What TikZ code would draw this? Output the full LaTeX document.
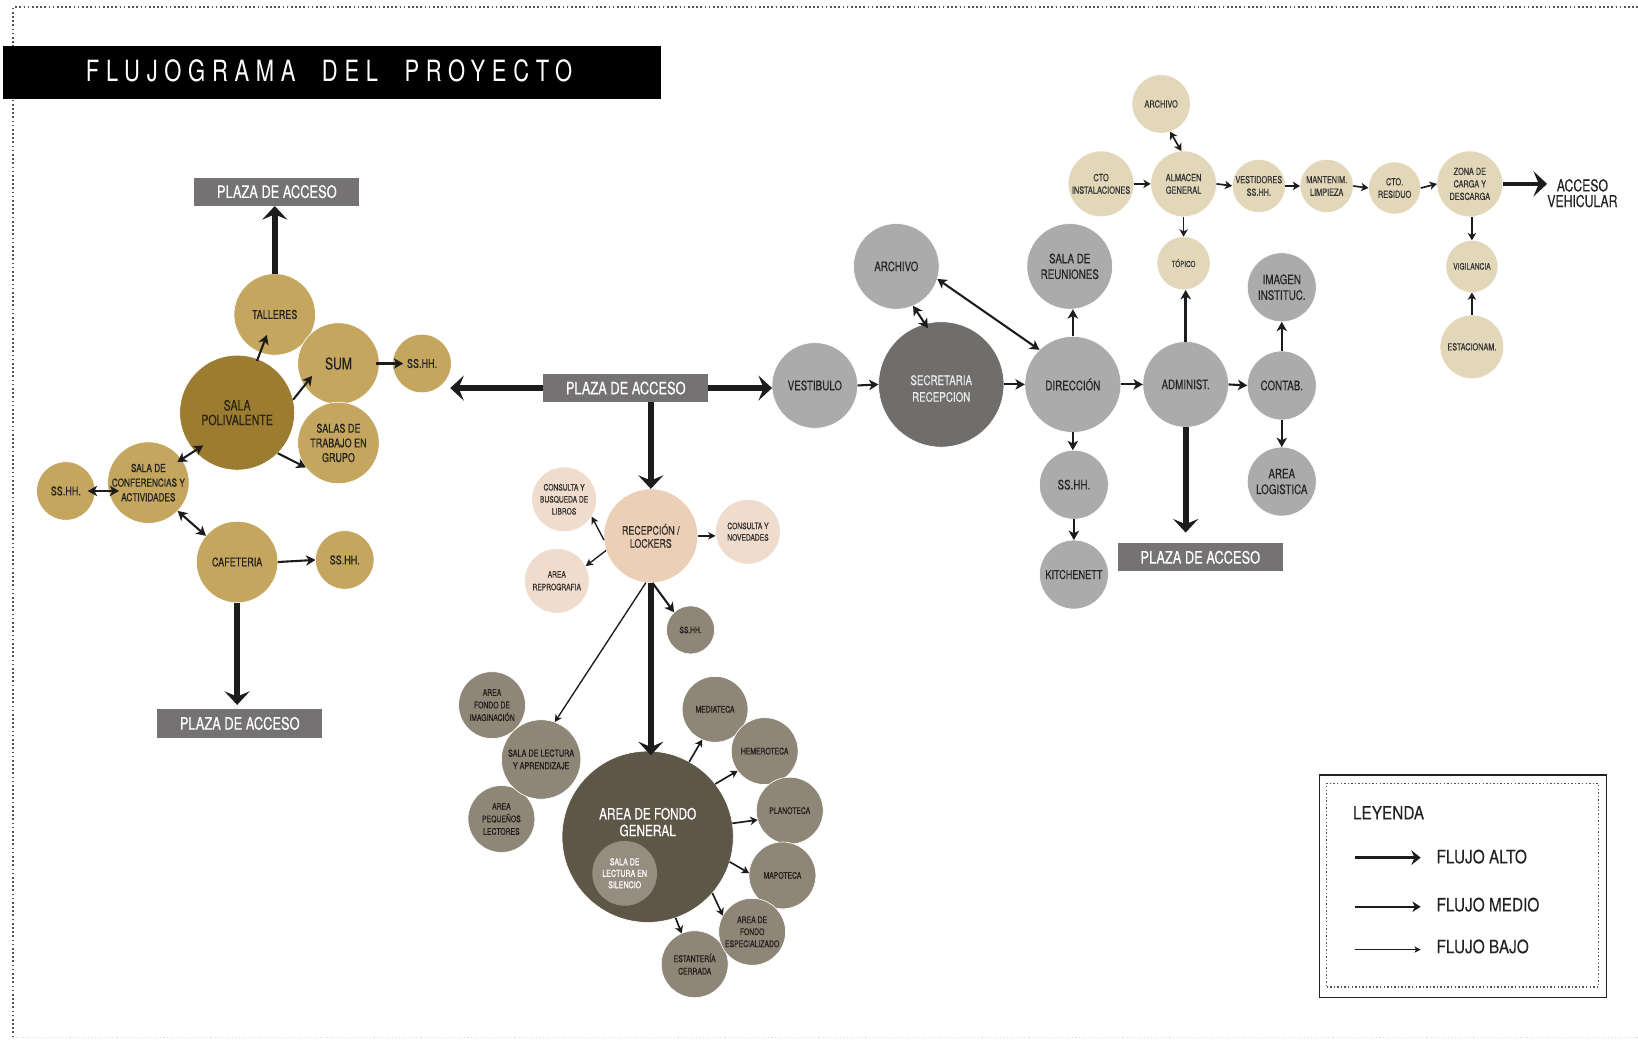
\documentclass[tikz,border=0pt]{standalone}
\usepackage{fontspec}
\setmainfont{TeX Gyre Heros}[FakeStretch=0.75,FakeBold=0.3]
\newfontfamily\titfont{TeX Gyre Heros}[FakeStretch=0.75,LetterSpace=23]
\newfontfamily\legfont{TeX Gyre Heros}[FakeStretch=0.84,FakeBold=0.2]
\usetikzlibrary{arrows.meta,calc}
\definecolor{gold}{HTML}{C4A65E}
\definecolor{spgold}{HTML}{9C7C31}
\definecolor{beige}{HTML}{E3D7B9}
\definecolor{peach}{HTML}{EBCFB7}
\definecolor{peachl}{HTML}{EFDCCD}
\definecolor{gry}{HTML}{ABABAB}
\definecolor{secg}{HTML}{706E6C}
\definecolor{olive}{HTML}{8E8676}
\definecolor{afgc}{HTML}{5E5747}
\definecolor{slsc}{HTML}{958D80}
\definecolor{plazac}{HTML}{747272}
\definecolor{txd}{HTML}{222222}
\definecolor{spt}{HTML}{2B2210}
\definecolor{oltx}{HTML}{201D1B}
\definecolor{pctx}{HTML}{332E2A}
\definecolor{grtx}{HTML}{262626}
\definecolor{sectx}{HTML}{ECECEC}
\definecolor{bgtx}{HTML}{333333}
\definecolor{arr}{HTML}{1C1C1C}
\definecolor{dotc}{HTML}{555555}
\newcommand\fsz[2]{\fontsize{#1}{#2}\selectfont}
\tikzset{
 bubble/.style={circle, inner sep=0pt, outer sep=0pt, draw=white, line width=0.6pt},
 bubtext/.style={align=center, inner sep=0pt},
 plaza/.style={rectangle, fill=plazac, text=white, minimum width=158pt, minimum height=27pt, inner sep=0pt, font=\fsz{16.4}{18}},
 flalto/.style={draw=arr, line width=5.5pt, -{Stealth[length=13pt,width=24pt,inset=5pt]}},
 flmedio/.style={draw=arr, line width=2pt, -{Stealth[length=9pt,width=10pt,inset=2.5pt]}},
 dmedio/.style={draw=arr, line width=2pt, {Stealth[length=9pt,width=10pt,inset=2.5pt]}-{Stealth[length=9pt,width=10pt,inset=2.5pt]}},
 flbajo/.style={draw=arr, line width=1.3pt, -{Stealth[length=7pt,width=7pt,inset=1.8pt]}},
 flsm/.style={draw=arr, line width=1.6pt, -{Stealth[length=7pt,width=8pt,inset=2pt]}},
 dsm/.style={draw=arr, line width=1.6pt, {Stealth[length=7pt,width=8pt,inset=2pt]}-{Stealth[length=7pt,width=8pt,inset=2pt]}},
 legalto/.style={draw=arr, line width=3.3pt, -{Stealth[length=9pt,width=14pt,inset=3pt]}},
 legmedio/.style={draw=arr, line width=2pt, -{Stealth[length=8pt,width=10pt,inset=2.5pt]}},
 legbajo/.style={draw=arr, line width=1pt, -{Stealth[length=6pt,width=6pt,inset=1.5pt]}},
 legtext/.style={anchor=west, inner sep=0pt, text=txd, font=\legfont\fsz{17.5}{20}},
}
\newcommand\bub[8]{%
 \node[bubble, minimum size=#3pt, fill=#4] (#1) at (#2) {};
 \node[bubtext, text=#5, font=\fsz{#6}{#7}] (#1-t) at (#1) {#8};}
\begin{document}
\begin{tikzpicture}[x=1pt,y=-1pt]
\useasboundingbox (0,0) rectangle (1568,995);
% frame
\draw[dotc, line width=1.6pt, dash pattern=on 1.6pt off 2.4pt] (12.5,993) -- (12.5,7) -- (1568,7);
\draw[black!15, line width=1pt, dash pattern=on 1pt off 2pt] (12.5,993) -- (1568,993);
% title
\node[fill=black, minimum width=630pt, minimum height=51pt, inner sep=0pt] (titlebar) at (318,69.5) {};
\node[text=white, inner sep=0pt, font=\titfont\fsz{28}{30}] (titletext) at (315,68) {FLUJOGRAMA\hspace{13pt} DEL\hspace{13pt} PROYECTO};

% ---------- left cluster
\bub{tal}{263,301}{78}{gold}{txd}{11.5}{14}{TALLERES}
\bub{sum}{324,348}{78}{gold}{txd}{15.5}{18}{SUM}
\bub{salas}{324,424}{78}{gold}{txd}{11.5}{14}{SALAS DE\\TRABAJO EN\\GRUPO}
\bub{ssht}{404,348}{56}{gold}{txd}{11.5}{14}{SS.HH.}
\bub{sp}{227,395}{110}{spgold}{spt}{13.5}{14}{SALA\\POLIVALENTE}
\bub{conf}{142,462}{78}{gold}{txd}{10.5}{14}{SALA DE\\CONFERENCIAS Y\\ACTIVIDADES}
\bub{sshl}{63,470}{56}{gold}{txd}{11.5}{14}{SS.HH.}
\bub{caf}{227,538}{78}{gold}{txd}{11.5}{14}{CAFETERIA}
\bub{sshr}{330,536}{56}{gold}{txd}{11.5}{14}{SS.HH.}

\node[plaza] (plaza1) at (265,183.5) {PLAZA DE ACCESO};
\node[plaza] (plaza2) at (229.5,692.5) {PLAZA DE ACCESO};
\node[plaza] (plaza0) at (599,371.5) {PLAZA DE ACCESO};
\node[plaza] (plaza3) at (1149,533.5) {PLAZA DE ACCESO};

% ---------- centre cluster
\bub{afi}{471,675}{64}{olive}{oltx}{8.7}{12}{AREA\\FONDO DE\\IMAGINACIÓN}
\bub{apl}{480,784}{64}{olive}{oltx}{8.7}{12}{AREA\\PEQUEÑOS\\LECTORES}
\bub{sla}{518,727}{76}{olive}{oltx}{9.2}{12}{SALA DE LECTURA\\Y APRENDIZAJE}
\bub{med}{684.5,679}{63}{olive}{oltx}{8.7}{11}{MEDIATECA}
\bub{hem}{732,719}{64}{olive}{oltx}{8.7}{11}{HEMEROTECA}
\bub{pla}{756,776}{64}{olive}{oltx}{8.7}{11}{PLANOTECA}
\bub{map}{749,838}{64}{olive}{oltx}{8.7}{11}{MAPOTECA}
\bub{est}{665,923}{64}{olive}{oltx}{8.7}{12}{ESTANTERÍA\\CERRADA}
\bub{afe}{720,892}{64}{olive}{oltx}{8.7}{11.5}{AREA DE\\FONDO\\ESPECIALIZADO}
\node[bubble, minimum size=164pt, fill=afgc] (afg) at (620,801) {};
\node[bubtext, text=white, font=\fsz{15}{16}] (afg-t) at (620,787) {AREA DE FONDO\\GENERAL};
\node[bubble, draw=none, minimum size=62pt, fill=slsc] (sls) at (598,836) {};
\node[bubtext, text=white, font=\fsz{9}{11}] (sls-t) at (sls) {SALA DE\\LECTURA EN\\SILENCIO};
\bub{recep}{623,513}{90}{peach}{pctx}{11.3}{12.5}{RECEPCIÓN /\\LOCKERS}
\bub{cbl}{540,478}{62}{peachl}{pctx}{8.5}{11.5}{CONSULTA Y\\BUSQUEDA DE\\LIBROS}
\bub{arep}{533,556}{62}{peachl}{pctx}{8.5}{12}{AREA\\REPROGRAFIA}
\bub{cnov}{716,509}{62}{peachl}{pctx}{8.5}{11}{CONSULTA Y\\NOVEDADES}
\bub{sshc}{661,603}{46}{olive}{oltx}{8.5}{11}{SS.HH.}

% ---------- right cluster
\bub{vest}{780,369}{82}{gry}{grtx}{12.5}{15}{VESTIBULO}
\bub{arc}{858,255}{82}{gry}{grtx}{12.5}{15}{ARCHIVO}
\node[bubble, minimum size=120pt, fill=secg] (sec) at (901,368) {};
\node[bubtext, text=sectx, font=\fsz{12.5}{16}] (sec-t) at (901,372) {SECRETARIA\\RECEPCION};
\bub{sdr}{1024,255}{82}{gry}{grtx}{12.5}{15}{SALA DE\\REUNIONES}
\bub{dir}{1027,368}{92}{gry}{grtx}{12.5}{15}{DIRECCIÓN}
\bub{sshd}{1028,464}{66}{gry}{grtx}{12.5}{15}{SS.HH.}
\bub{kit}{1028,550}{66}{gry}{grtx}{11.7}{15}{KITCHENETT}
\bub{adm}{1135,368}{82}{gry}{grtx}{12.5}{15}{ADMINIST.}
\bub{img}{1227,275}{66}{gry}{grtx}{12.5}{15}{IMAGEN\\INSTITUC.}
\bub{con}{1227,369}{66}{gry}{grtx}{12.5}{15}{CONTAB.}
\bub{alg}{1227,461}{66}{gry}{grtx}{12.5}{15}{AREA\\LOGISTICA}

% ---------- top right cluster
\bub{arc2}{1111.5,99.5}{56}{beige}{bgtx}{9.5}{12}{ARCHIVO}
\bub{cto}{1054,176}{63}{beige}{bgtx}{9.5}{12}{CTO\\INSTALACIONES}
\bub{alm}{1133,176}{63}{beige}{bgtx}{9.5}{12}{ALMACEN\\GENERAL}
\bub{ves}{1205,178}{51}{beige}{bgtx}{9.3}{12}{VESTIDORES\\SS.HH.}
\bub{man}{1270,178}{51}{beige}{bgtx}{9.3}{12}{MANTENIM.\\LIMPIEZA}
\bub{res}{1335,180}{50}{beige}{bgtx}{9.3}{12}{CTO.\\RESIDUO}
\bub{zon}{1407,176}{63}{beige}{bgtx}{9.3}{12}{ZONA DE\\CARGA Y\\DESCARGA}
\bub{top}{1133,252}{51}{beige}{bgtx}{8}{10}{TÓPICO}
\bub{vig}{1409,255}{50}{beige}{bgtx}{8.5}{10}{VIGILANCIA}
\bub{est2}{1409,332}{61}{beige}{bgtx}{9.3}{11}{ESTACIONAM.}
\node[anchor=west, align=center, inner sep=0pt, text=txd, font=\fsz{15.6}{15}] (acv) at (1481,185) {ACCESO\\VEHICULAR};

% ---------- connectors: left
\draw[flalto] (tal.north) -- (tal.north |- plaza1.south);
\draw[flmedio, shorten <=53pt, shorten >=21pt] (sp.center) -- (tal.center);
\draw[flmedio, shorten >=-12pt] (sp.13) -- (sum.213);
\draw[flmedio] (sp.-45) -- (salas.217);
\draw[dmedio, shorten <=-5pt, shorten >=-10pt] (conf.35) -- (sp.222);
\draw[dmedio, shorten <=-7pt, shorten >=-11pt] (sshl.east) -- (sshl.east -| conf.west);
\draw[dmedio] (conf.-44) -- (caf.140);
\draw[flmedio] (caf.east) -- (sshr.west);
\draw[flalto, shorten >=4pt] (caf.south) -- (caf.south |- plaza2.north);
\draw[flmedio, shorten <=-3pt, shorten >=-10pt] (sum.east) -- (ssht.west);

% ---------- connectors: centre
\coordinate (pleft) at (431,371.5);
\draw[flalto] (plaza0.west) -- (pleft);
\draw[flalto] (plaza0.east) -- (plaza0.east -| vest.west);
\draw[flalto] (recep.north |- plaza0.south) -- (recep.north);
\draw[flalto, shorten >=-4pt] (recep.south) -- (recep.south |- afg.north);
\draw[flbajo] (recep.185) -- (cbl.-32);
\draw[flbajo] (recep.198) -- (arep.27);
\draw[flbajo] (recep.east) -- (recep.east -| cnov.west);
\draw[flmedio] (recep.-88) -- (sshc.133);
\draw[flbajo] (recep.-96) -- (sla.70);
\draw[flsm] (afg.61) -- (med.247);
\draw[flsm] (afg.38) -- (hem.216);
\draw[flsm] (afg.9.5) -- (pla.196);
\draw[flsm] (afg.-17.5) -- (map.176);
\draw[flsm] (afg.-41) -- (afe.151);
\draw[flsm] (afg.-71.5) -- (est.113);

% ---------- connectors: right
\draw[flmedio] (vest.east) -- (sec.west);
\draw[dmedio, shorten >=-5pt] (arc.-67) -- (sec.105);
\draw[dmedio] (arc.-17) -- (dir.134);
\draw[flmedio] (sec.east) -- (dir.west);
\draw[flmedio] (dir.north) -- (dir.north |- sdr.south);
\draw[flmedio] (dir.south) -- (dir.south |- sshd.north);
\draw[flmedio] (sshd.south) -- (kit.north);
\draw[flmedio] (dir.east) -- (adm.west);
\draw[flmedio, line width=2.4pt] (adm.north) -- (adm.north |- top.south);
\draw[flalto, shorten >=10pt] (adm.south) -- (adm.south |- plaza3.north);
\draw[flmedio] (adm.east) -- (con.west);
\draw[flmedio] (con.north) -- (img.south);
\draw[flmedio] (con.south) -- (alg.north);

% ---------- connectors: top right
\draw[dsm] (arc2.-72) -- (alm.94);
\draw[flsm] (cto.east) -- (alm.west);
\draw[flsm] (alm.east) -- (ves.west);
\draw[flsm] (ves.east) -- (man.west);
\draw[flsm] (man.east) -- (res.west);
\draw[flsm] (res.east) -- (zon.west);
\draw[flalto, line width=4pt] (zon.east) -- (zon.east -| acv.west);
\draw[flsm] (alm.south) -- (top.north);
\draw[flsm] (zon.south -| vig.north) -- (vig.north);
\draw[flsm] (est2.north) -- (vig.south);

% ---------- legend
\node[draw=txd, line width=1.3pt, minimum width=275pt, minimum height=213pt, inner sep=0pt] (legbox) at (1400.5,848.5) {};
\node[draw=dotc, line width=1.4pt, dash pattern=on 1.4pt off 2pt, minimum width=260pt, minimum height=195pt, inner sep=0pt] (leginner) at (1400,847.5) {};
\node[legtext] (leyenda) at (1295,778) {LEYENDA};
\coordinate (la1) at (1297,821); \coordinate (la2) at (1360,821);
\coordinate (lm1) at (1297,868); \coordinate (lm2) at (1360,868);
\coordinate (lb1) at (1297,909); \coordinate (lb2) at (1360,909);
\draw[legalto] (la1) -- (la2);
\draw[legmedio] (lm1) -- (lm2);
\draw[legbajo] (lb1) -- (lb2);
\node[legtext] (lalto) at (1375,820) {FLUJO ALTO};
\node[legtext] (lmedio) at (1375,866) {FLUJO MEDIO};
\node[legtext] (lbajo) at (1375,906) {FLUJO BAJO};
\end{tikzpicture}
\end{document}
